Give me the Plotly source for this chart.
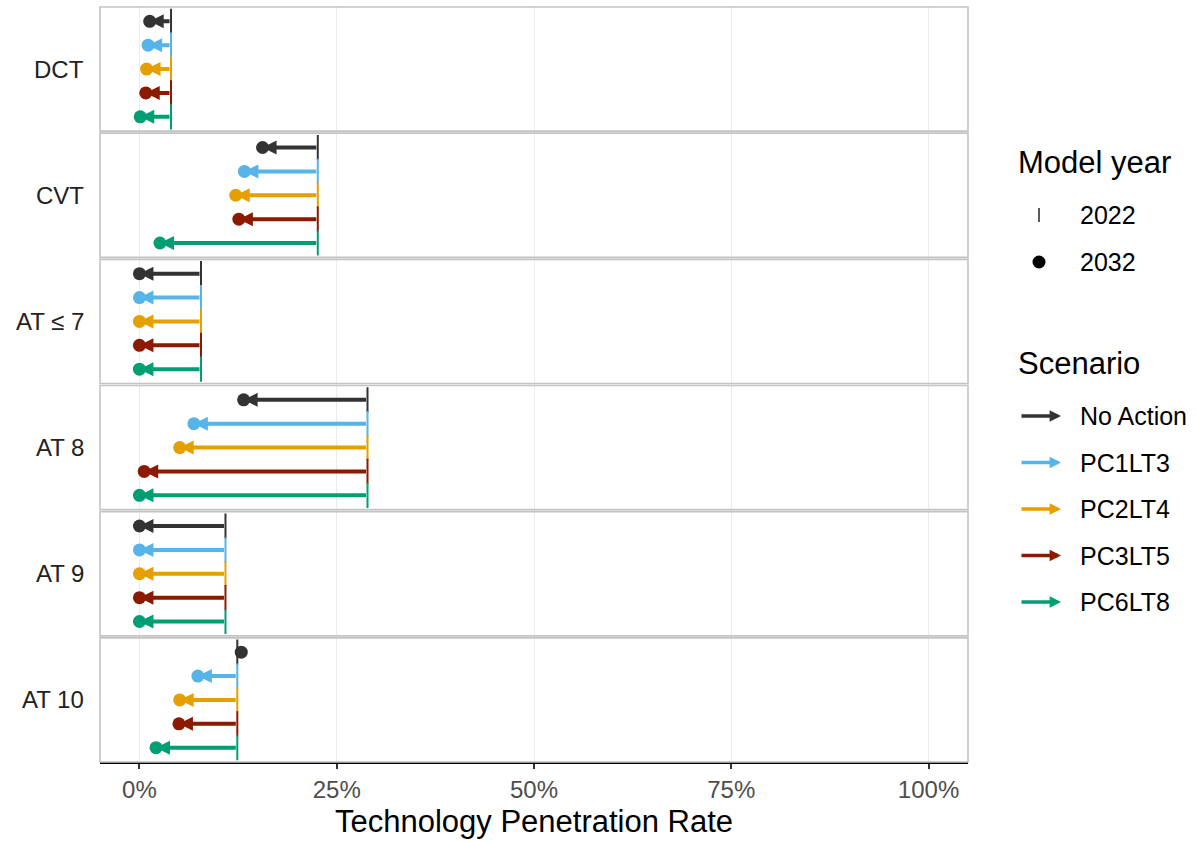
import plotly.graph_objects as go
from plotly.subplots import make_subplots

# ---------------- data ----------------
technologies = ["DCT", "CVT", "AT ≤ 7", "AT 8", "AT 9", "AT 10"]
scenarios = ["No Action", "PC1LT3", "PC2LT4", "PC3LT5", "PC6LT8"]
scenario_colors = ["#333333", "#56B4E9", "#E69F00", "#8B1A00", "#009E73"]

# 2022 penetration (%) per technology (same start for every scenario)
rate_2022 = [4.0, 22.6, 7.8, 28.9, 10.9, 12.4]

# 2032 penetration (%) per technology, in scenario order
rate_2032_dct = [1.3, 1.1, 0.9, 0.8, 0.1]
rate_2032_cvt = [15.6, 13.3, 12.2, 12.6, 2.6]
rate_2032_at7 = [0.0, 0.0, 0.0, 0.0, 0.0]
rate_2032_at8 = [13.2, 6.9, 5.1, 0.6, 0.0]
rate_2032_at9 = [0.0, 0.0, 0.0, 0.0, 0.0]
rate_2032_at10 = [12.9, 7.4, 5.1, 5.0, 2.1]
rate_2032 = [rate_2032_dct, rate_2032_cvt, rate_2032_at7,
             rate_2032_at8, rate_2032_at9, rate_2032_at10]

x_ticks = [0, 25, 50, 75, 100]
x_tick_labels = ["0%", "25%", "50%", "75%", "100%"]
year_labels = ["2022", "2032"]

# ---------------- layout constants ----------------
W, H = 1197, 842
ML, MR, MT, MB = 100, 229, 7, 80
PW, PH = W - ML - MR, H - MT - MB
FONT = "Liberation Sans, Arial, sans-serif"
BORDER = "#C4C4C4"
ARROW_W, ARROW_S = 4, 0.7
LEG_ARROW_W, LEG_ARROW_S = 3.5, 0.65


def px_x(px):
    return (px - ML) / PW


def px_y(py):
    return (H - MB - py) / PH


n = len(technologies)
fig = make_subplots(rows=n, cols=1, shared_xaxes=True, vertical_spacing=2 / PH)

annotations = []
shapes = []
y_idx = list(range(len(scenarios)))

for i, tech in enumerate(technologies):
    r = i + 1
    sfx = "" if r == 1 else str(r)
    starts = [rate_2022[i]] * len(scenarios)
    ends = rate_2032[i]

    # 2022 tick marks
    fig.add_trace(go.Scatter(
        x=starts, y=y_idx, mode="markers", showlegend=False, hoverinfo="skip",
        marker=dict(symbol="line-ns", size=18, color=scenario_colors,
                    line=dict(color=scenario_colors, width=2)),
    ), row=r, col=1)
    # 2032 dots
    fig.add_trace(go.Scatter(
        x=ends, y=y_idx, mode="markers", showlegend=False,
        marker=dict(symbol="circle", size=13, color=scenario_colors,
                    line=dict(width=0)),
        text=scenarios,
        hovertemplate="%{text}: %{x:.1f}%<extra>" + tech + "</extra>",
    ), row=r, col=1)

    # arrows 2022 -> 2032
    for j in y_idx:
        if abs(ends[j] - starts[j]) < 1:
            continue
        annotations.append(dict(
            x=ends[j], y=j, ax=starts[j], ay=j,
            xref="x" + sfx, yref="y" + sfx, axref="x" + sfx, ayref="y" + sfx,
            text="", showarrow=True, arrowhead=2, arrowsize=ARROW_S,
            arrowwidth=ARROW_W, arrowcolor=scenario_colors[j], standoff=0,
        ))

    # facet label
    annotations.append(dict(
        x=0, xref="paper", xanchor="right", xshift=-14,
        y=0.5, yref="y" + sfx + " domain", yanchor="middle",
        text=tech, showarrow=False,
        font=dict(family=FONT, size=24, color="#222222"),
    ))

    # panel border
    shapes.append(dict(
        type="rect", xref="x" + sfx + " domain", yref="y" + sfx + " domain",
        x0=0, x1=1, y0=0, y1=1, line=dict(color=BORDER, width=1.6),
        layer="above",
    ))

    fig.update_yaxes(row=r, col=1, range=[len(scenarios) - 0.4, -0.6],
                     showticklabels=False, ticks="", showgrid=False,
                     zeroline=False, showline=False, fixedrange=True)
    fig.update_xaxes(row=r, col=1, range=[-5, 105], tickvals=x_ticks,
                     ticktext=x_tick_labels, showgrid=True,
                     gridcolor="#EBEBEB", gridwidth=1, zeroline=False,
                     showline=False, fixedrange=True)

# bottom axis
fig.update_xaxes(row=n, col=1, showline=True, linecolor="black", linewidth=2,
                 ticks="outside", ticklen=5, tickwidth=2, tickcolor="#333333",
                 tickfont=dict(family=FONT, size=24, color="#4D4D4D"),
                 title=dict(text="Technology Penetration Rate", standoff=9,
                            font=dict(family=FONT, size=31, color="black")))

# ---------------- manual legend ----------------
leg_title_font = dict(family=FONT, size=31, color="black")
leg_item_font = dict(family=FONT, size=25, color="black")
text_x = px_x(1078)

annotations.append(dict(x=px_x(1016), y=px_y(162), xref="paper", yref="paper",
                        xanchor="left", yanchor="middle", text="Model year",
                        showarrow=False, font=leg_title_font))
year_rows = [215, 262]
for lab, py in zip(year_labels, year_rows):
    annotations.append(dict(x=text_x, y=px_y(py), xref="paper", yref="paper",
                            xanchor="left", yanchor="middle", text=lab,
                            showarrow=False, font=leg_item_font))
# 2022 glyph: thin vertical tick
shapes.append(dict(type="line", xref="paper", yref="paper",
                   x0=px_x(1039), x1=px_x(1039),
                   y0=px_y(year_rows[0] + 7), y1=px_y(year_rows[0] - 7),
                   line=dict(color="black", width=1.3)))
# 2032 glyph: dot
shapes.append(dict(type="circle", xref="paper", yref="paper",
                   xsizemode="pixel", ysizemode="pixel",
                   xanchor=px_x(1039), yanchor=px_y(year_rows[1]),
                   x0=-6.5, x1=6.5, y0=-6.5, y1=6.5,
                   fillcolor="black", line=dict(width=0)))

annotations.append(dict(x=px_x(1016), y=px_y(363), xref="paper", yref="paper",
                        xanchor="left", yanchor="middle", text="Scenario",
                        showarrow=False, font=leg_title_font))
scen_rows = [416, 462.5, 509, 555.5, 602]
for name, col, py in zip(scenarios, scenario_colors, scen_rows):
    annotations.append(dict(x=px_x(1061), y=px_y(py), xref="paper", yref="paper",
                            ax=-41, ay=0, text="", showarrow=True, arrowhead=2,
                            arrowsize=LEG_ARROW_S, arrowwidth=LEG_ARROW_W,
                            arrowcolor=col, standoff=0))
    annotations.append(dict(x=text_x, y=px_y(py), xref="paper", yref="paper",
                            xanchor="left", yanchor="middle", text=name,
                            showarrow=False, font=leg_item_font))

fig.update_layout(
    width=W, height=H, autosize=False,
    margin=dict(l=ML, r=MR, t=MT, b=MB, pad=0),
    plot_bgcolor="white", paper_bgcolor="white",
    font=dict(family=FONT, color="black"),
    showlegend=False,
    annotations=annotations, shapes=shapes,
)

fig.write_html("out.html", config={"displayModeBar": False},
               post_script="document.body.style.margin='0';")
